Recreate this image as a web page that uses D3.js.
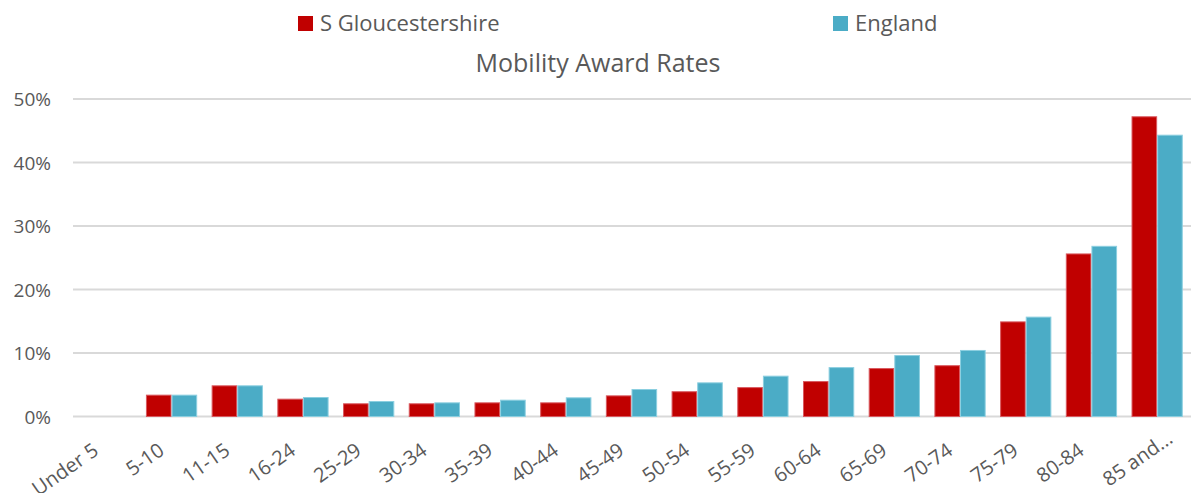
<!DOCTYPE html>
<html>
<head>
<meta charset="utf-8">
<script src="https://cdn.jsdelivr.net/npm/d3@7"></script>
<style>
  html, body { margin: 0; padding: 0; background: #fff; }
  svg { display: block; font-family: "Open Sans", sans-serif; }
</style>
</head>
<body>
<svg id="chart" width="1191" height="493"></svg>
<script>
// Age bands and award rates (%)
const categories = ["Under 5", "5-10", "11-15", "16-24", "25-29", "30-34", "35-39", "40-44",
  "45-49", "50-54", "55-59", "60-64", "65-69", "70-74", "75-79", "80-84", "85 and..."];
const sGlos = [null, 3.36, 4.83, 2.73, 2.0, 2.0, 2.15, 2.15, 3.25, 3.9, 4.55, 5.5, 7.55, 8.0, 14.9, 25.6, 47.2];
const england = [null, 3.36, 4.83, 2.99, 2.36, 2.15, 2.57, 2.94, 4.25, 5.3, 6.35, 7.7, 9.6, 10.4, 15.65, 26.8, 44.3];
const seriesNames = ["S Gloucestershire", "England"];
const yTicks = [0, 10, 20, 30, 40, 50];
const chartTitle = "Mobility Award Rates";

const colors = ["#C00000", "#4BACC6"];
const strokes = ["#D9595F", "#8CCFE0"];
const textColor = "#595959";
const gridColor = "#D9D9D9";

const svg = d3.select("#chart");
const margin = { left: 73, right: 1, top: 99, bottom: 76 };
const width = 1191, height = 493;

const x = d3.scaleBand().domain(categories)
  .range([margin.left, width - margin.right])
  .paddingInner(0.22).paddingOuter(0.11);
const x1 = d3.scaleBand().domain(seriesNames).range([0, x.bandwidth()]);
const y = d3.scaleLinear().domain([0, 50]).range([height - margin.bottom - 0.5, margin.top]);

// Gridlines
svg.append("g").selectAll("line").data(yTicks).join("line")
  .attr("x1", margin.left).attr("x2", width)
  .attr("y1", d => y(d)).attr("y2", d => y(d))
  .attr("stroke", gridColor).attr("stroke-width", 2);

// Y axis labels
const yAxis = d3.axisLeft(y).tickValues(yTicks).tickFormat(d => d + "%").tickSize(0).tickPadding(0);
const yg = svg.append("g").attr("transform", `translate(51,0)`).call(yAxis);
yg.select(".domain").remove();
yg.selectAll("text").attr("fill", textColor).style("font-size", "19px")
  .style("font-family", "'Open Sans', sans-serif").attr("dy", "0.35em");

// Bars
const rows = categories.map((c, i) => ({ c, vals: [sGlos[i], england[i]] }));
const groups = svg.append("g").selectAll("g").data(rows).join("g")
  .attr("transform", d => `translate(${x(d.c)},0)`);
groups.selectAll("rect")
  .data(d => d.vals.map((v, k) => ({ v, k })).filter(e => e.v != null))
  .join("rect")
  .attr("x", e => x1(seriesNames[e.k]) + 0.5)
  .attr("width", x1.bandwidth() - 1)
  .attr("y", e => y(e.v))
  .attr("height", e => y(0) - y(e.v))
  .attr("fill", e => colors[e.k])
  .attr("stroke", e => strokes[e.k])
  .attr("stroke-width", 1);

// X axis labels, rotated; the truncated last label is laid out as its full text
const xAxis = d3.axisBottom(x).tickSize(0).tickPadding(0);
const xg = svg.append("g").attr("transform", `translate(0,${y(0)})`).call(xAxis);
xg.select(".domain").remove();
xg.selectAll("text")
  .attr("fill", textColor).style("font-size", "20px")
  .style("font-family", "'Open Sans', sans-serif")
  .attr("text-anchor", "end")
  .attr("y", 0).attr("dy", 0)
  .attr("transform", d => d.endsWith("...")
    ? "translate(17,25) rotate(-35)"
    : "translate(-6,37) rotate(-35)");

// Title
svg.append("text").attr("x", 598).attr("y", 72)
  .attr("text-anchor", "middle").attr("fill", textColor)
  .style("font-size", "25px").text(chartTitle);

// Legend
const legendX = [298, 833];
const lg = svg.append("g").selectAll("g").data(seriesNames).join("g")
  .attr("transform", (d, i) => `translate(${legendX[i]},15)`);
lg.append("rect").attr("width", 15).attr("height", 15).attr("y", 1)
  .attr("fill", (d, i) => colors[i]);
lg.append("text").attr("x", 22).attr("y", 16)
  .attr("fill", textColor).style("font-size", "22px").text(d => d);
</script>
</body>
</html>
